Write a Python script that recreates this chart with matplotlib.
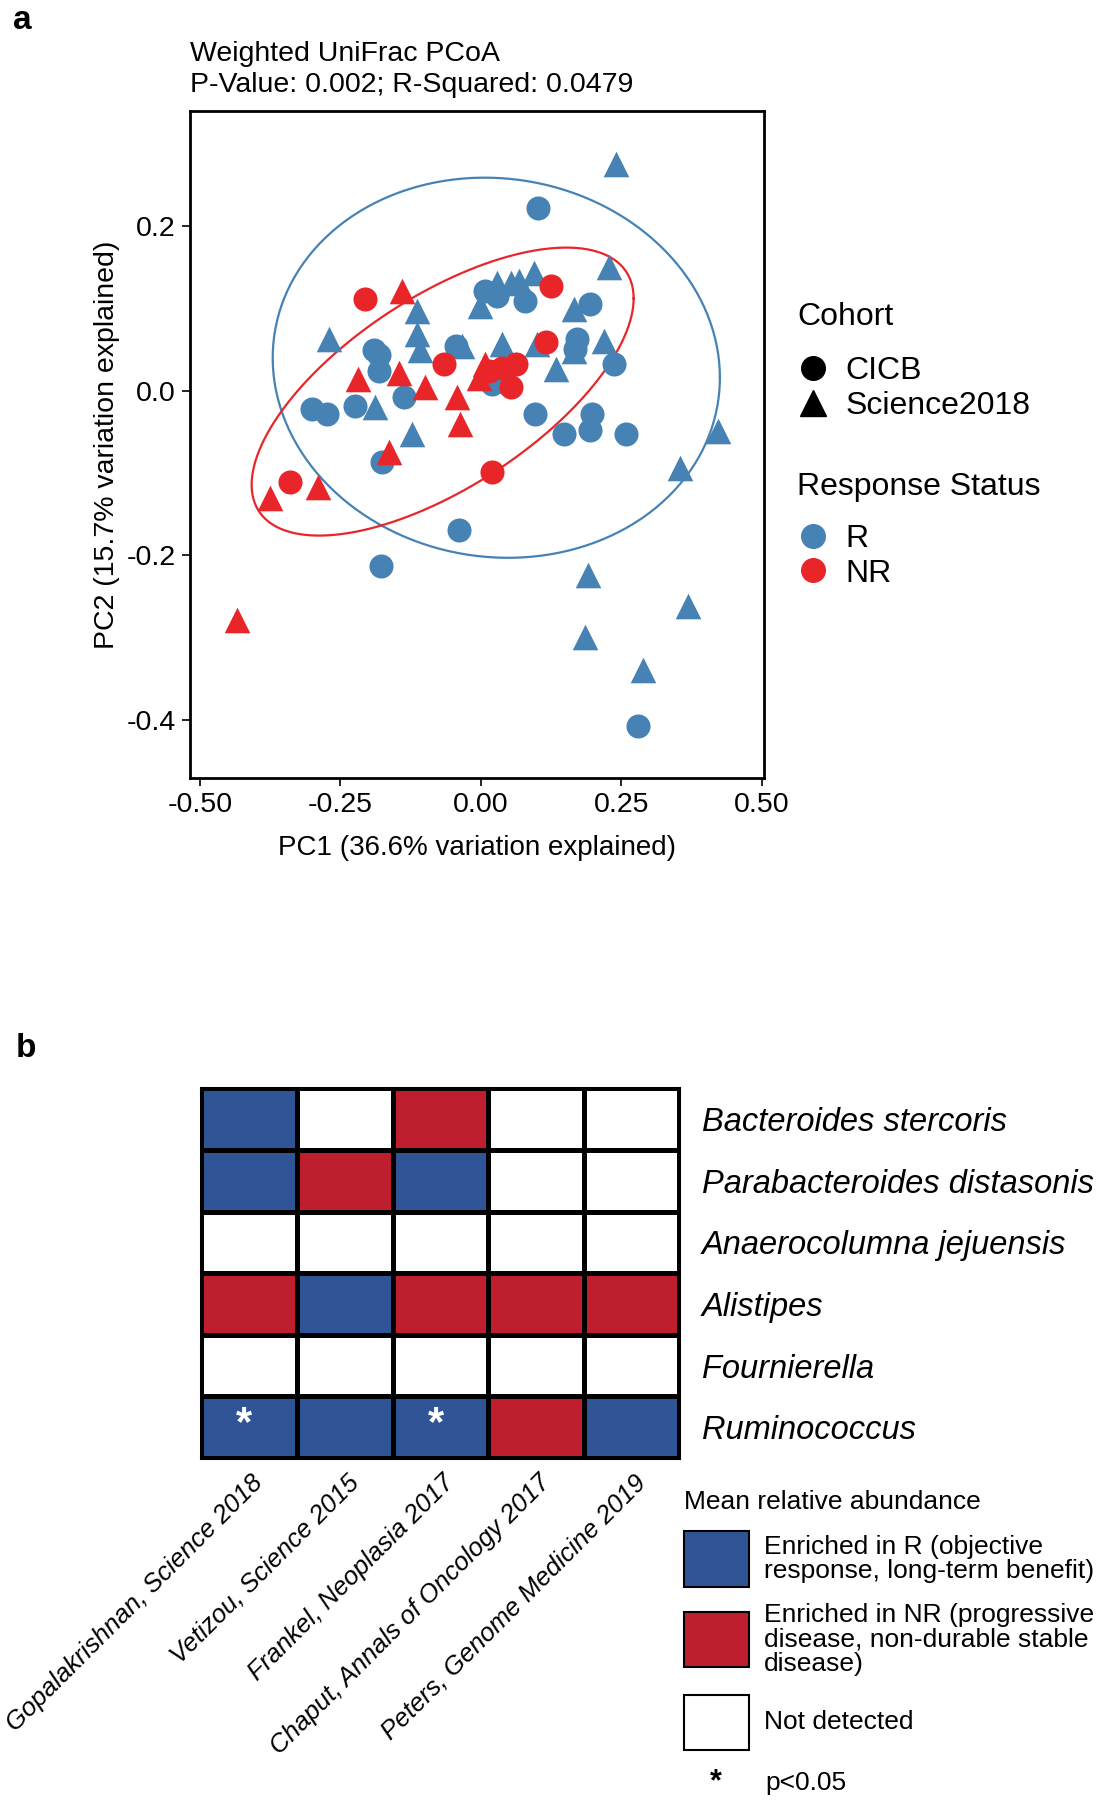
import numpy as np
import matplotlib
matplotlib.use("Agg")
import matplotlib.pyplot as plt
from matplotlib.lines import Line2D
from matplotlib.patches import Rectangle
from matplotlib.colors import ListedColormap, BoundaryNorm

plt.rcParams['font.family'] = ['Liberation Sans', 'DejaVu Sans']
plt.rcParams['axes.unicode_minus'] = False

# ---- panel a: PCoA points ----
# R / Science2018 (blue triangles)
r_tri_x = [0.240, 0.228, 0.094, 0.068, 0.053, 0.029, -0.001, 0.166, -0.114, -0.114, -0.108,
           -0.271, -0.034, 0.038, 0.100, 0.219, 0.166, 0.133, -0.188, -0.123,
           0.422, 0.354, 0.190, 0.369, 0.185, 0.289]
r_tri_y = [0.275, 0.151, 0.143, 0.133, 0.131, 0.131, 0.103, 0.099, 0.097, 0.069, 0.049,
           0.063, 0.055, 0.057, 0.057, 0.061, 0.048, 0.026, -0.020, -0.052,
           -0.049, -0.094, -0.224, -0.262, -0.299, -0.339]
# R / CICB (blue circles)
r_circ_x = [0.102, 0.008, 0.029, 0.079, 0.195, 0.171, 0.168, 0.237, -0.191, -0.182, -0.182,
            -0.045, -0.301, -0.274, -0.224, -0.137, 0.020, 0.044, 0.097, 0.148, 0.198,
            0.195, 0.258, -0.176, 0.279, -0.178, -0.039]
r_circ_y = [0.222, 0.121, 0.115, 0.109, 0.105, 0.063, 0.051, 0.032, 0.049, 0.044, 0.024,
            0.055, -0.022, -0.028, -0.018, -0.008, 0.008, 0.010, -0.028, -0.052, -0.028,
            -0.048, -0.052, -0.087, -0.408, -0.213, -0.169]
# NR / Science2018 (red triangles)
nr_tri_x = [-0.140, -0.218, -0.146, -0.099, -0.042, -0.038, 0.008, -0.004, -0.164,
            -0.376, -0.289, -0.434]
nr_tri_y = [0.121, 0.014, 0.022, 0.004, -0.008, -0.040, 0.032, 0.016, -0.075,
            -0.130, -0.117, -0.278]
# NR / CICB (red circles)
nr_circ_x = [-0.207, 0.124, 0.116, -0.066, 0.062, 0.038, 0.014, 0.053, 0.020, -0.339]
nr_circ_y = [0.111, 0.127, 0.059, 0.032, 0.032, 0.028, 0.024, 0.004, -0.099, -0.111]

# confidence ellipses: centre, half-width, half-height, cross term
ell_r = dict(cx=0.0275, cy=0.028, sx=0.398, sy=0.231, sxy=-0.0048)
ell_nr = dict(cx=-0.068, cy=-0.001, sx=0.340, sy=0.175, sxy=0.0385)

blue = '#4682B4'
red = '#E8262A'

# ---- panel b: heatmap ----
studies = ['Gopalakrishnan, Science 2018', 'Vetizou, Science 2015', 'Frankel, Neoplasia 2017',
           'Chaput, Annals of Oncology 2017', 'Peters, Genome Medicine 2019']
taxa = ['Bacteroides stercoris', 'Parabacteroides distasonis', 'Anaerocolumna jejuensis',
        'Alistipes', 'Fournierella', 'Ruminococcus']
# 1 = enriched in R, -1 = enriched in NR, 0 = not detected
enrich = [[1, 0, -1, 0, 0],
          [1, -1, 1, 0, 0],
          [0, 0, 0, 0, 0],
          [-1, 1, -1, -1, -1],
          [0, 0, 0, 0, 0],
          [1, 1, 1, -1, 1]]
signif = [(5, 0), (5, 2)]  # (row, col) with p<0.05

hm_blue = '#2F5597'
hm_red = '#BE1E2D'

fig = plt.figure(figsize=(10.98, 18), dpi=100)

# ---------------- panel a ----------------
ax = fig.add_axes([0.1729, 0.5676, 0.5229, 0.3705])


def ellipse(e):
    cov = np.array([[e['sx'] ** 2, e['sxy']], [e['sxy'], e['sy'] ** 2]])
    L = np.linalg.cholesky(cov)
    t = np.linspace(0, 2 * np.pi, 300)
    pts = L @ np.vstack([np.cos(t), np.sin(t)])
    return pts[0] + e['cx'], pts[1] + e['cy']


ex, ey = ellipse(ell_r)
ax.plot(ex, ey, color=blue, lw=1.6)
ex, ey = ellipse(ell_nr)
ax.plot(ex, ey, color=red, lw=1.6)

ax.scatter(r_tri_x, r_tri_y, marker='^', s=340, color=blue, linewidths=0, zorder=3)
ax.scatter(r_circ_x, r_circ_y, marker='o', s=300, color=blue, linewidths=0, zorder=3)
ax.scatter(nr_tri_x, nr_tri_y, marker='^', s=340, color=red, linewidths=0, zorder=4)
ax.scatter(nr_circ_x, nr_circ_y, marker='o', s=300, color=red, linewidths=0, zorder=4)

ax.set_xlim(-0.518, 0.504)
ax.set_ylim(-0.471, 0.3395)
ax.set_xticks([-0.5, -0.25, 0.0, 0.25, 0.5])
ax.set_xticklabels(['-0.50', '-0.25', '0.00', '0.25', '0.50'])
ax.set_yticks([-0.4, -0.2, 0.0, 0.2])
ax.set_yticklabels(['-0.4', '-0.2', '0.0', '0.2'])
ax.tick_params(labelsize=20.5, length=6, width=1.2, pad=4)
for sp in ax.spines.values():
    sp.set_linewidth(2.0)
ax.set_xlabel('PC1 (36.6% variation explained)', fontsize=20, labelpad=12)
ax.set_ylabel('PC2 (15.7% variation explained)', fontsize=20.5, labelpad=5)
ax.set_title('Weighted UniFrac PCoA\nP-Value: 0.002; R-Squared: 0.0479', loc='left',
             fontsize=20.5, pad=14, linespacing=1.25)

# legend titles and entries
fig.text(0.726, 0.824, 'Cohort', fontsize=23, va='center')
fig.text(0.726, 0.7296, 'Response Status', fontsize=23, va='center')
h1 = [Line2D([], [], marker='o', ls='', color='black', markersize=17),
      Line2D([], [], marker='^', ls='', color='black', markersize=19)]
fig.legend(h1, ['CICB', 'Science2018'], loc='upper left',
           bbox_to_anchor=(0.726, 0.802), frameon=False, fontsize=23,
           labelspacing=0.15, handletextpad=0.5, handlelength=1.0,
           borderpad=0, borderaxespad=0)
h2 = [Line2D([], [], marker='o', ls='', color=blue, markersize=17),
      Line2D([], [], marker='o', ls='', color=red, markersize=17)]
fig.legend(h2, ['R', 'NR'], loc='upper left',
           bbox_to_anchor=(0.726, 0.709), frameon=False, fontsize=23,
           labelspacing=0.15, handletextpad=0.5, handlelength=1.0,
           borderpad=0, borderaxespad=0)

fig.text(0.012, 0.997, 'a', fontsize=24, fontweight='bold', va='top')
fig.text(0.014, 0.426, 'b', fontsize=24, fontweight='bold', va='top')

# ---------------- panel b ----------------
axh = fig.add_axes([0.1833, 0.19, 0.4355, 0.2054])
cmap = ListedColormap([hm_red, 'white', hm_blue])
norm = BoundaryNorm([-1.5, -0.5, 0.5, 1.5], cmap.N)
axh.pcolormesh(np.array(enrich), cmap=cmap, norm=norm, edgecolors='black', linewidth=2.2)
axh.set_xlim(0, len(studies))
axh.set_ylim(len(taxa), 0)
for sp in axh.spines.values():
    sp.set_linewidth(2.2)
axh.set_xticks(np.arange(len(studies)) + 0.5)
axh.set_xticklabels([])
axh.set_yticks(np.arange(len(taxa)) + 0.5)
axh.yaxis.tick_right()
axh.set_yticklabels(taxa, fontsize=23.5, style='italic')
axh.tick_params(length=0, pad=16)
for j, s in enumerate(studies):
    axh.text(j + 0.52, len(taxa) + 0.2, s, rotation=45, rotation_mode='anchor',
             ha='right', va='top', fontsize=18.5, style='italic')
for (r, c) in signif:
    axh.text(c + 0.45, r + 0.45, '*', color='white', fontsize=30, fontweight='bold',
             ha='center', va='center')

# legend for panel b
fig.text(0.623, 0.1658, 'Mean relative abundance', fontsize=19, va='center')
leg_items = [(hm_blue, 'Enriched in R (objective\nresponse, long-term benefit)', 0.1186),
             (hm_red, 'Enriched in NR (progressive\ndisease, non-durable stable\ndisease)', 0.074),
             ('white', 'Not detected', 0.028)]
for col, lab, yb in leg_items:
    fig.add_artist(Rectangle((0.623, yb), 0.059, 0.0306, transform=fig.transFigure,
                             facecolor=col, edgecolor='black', lw=1.5))
    fig.text(0.696, yb + 0.0153, lab, fontsize=19, va='center', linespacing=1.02)
fig.text(0.652, 0.0096, '*', fontsize=22, fontweight='bold', ha='center', va='center')
fig.text(0.697, 0.0096, 'p<0.05', fontsize=19, va='center')

fig.savefig('out.png', dpi=100)
